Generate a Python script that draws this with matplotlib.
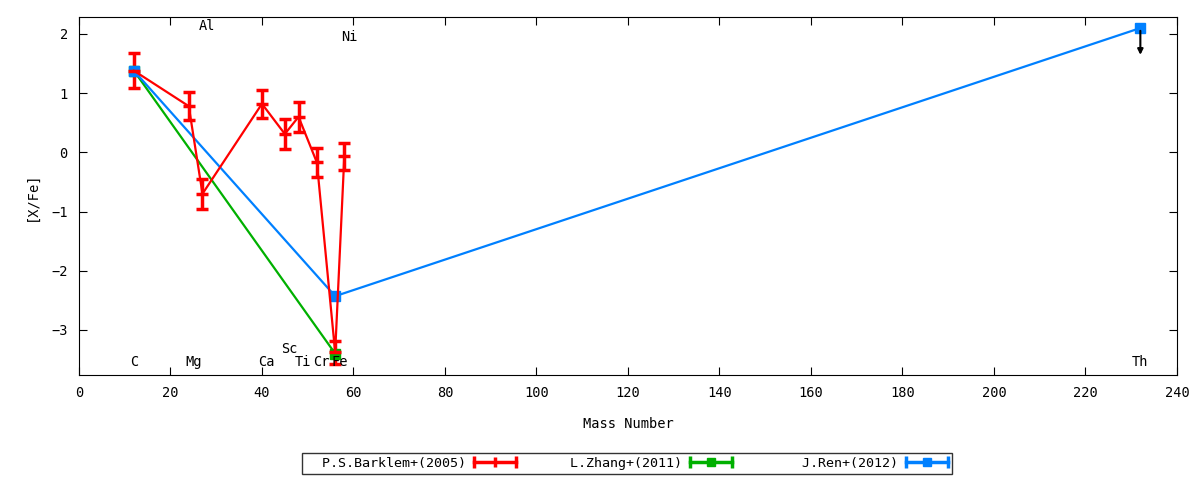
import matplotlib.pyplot as plt
from matplotlib.legend_handler import HandlerBase
from matplotlib.lines import Line2D
import numpy as np

plt.rcParams['font.family'] = ['DejaVu Sans Mono']
plt.rcParams['font.size'] = 9.8

# Barklem+ (2005)
bark_mass = [12, 24, 27, 40, 45, 48, 52, 56, 58]
bark_val = [1.38, 0.78, -0.70, 0.82, 0.31, 0.60, -0.17, -3.38, -0.07]
bark_err = [0.30, 0.24, 0.25, 0.24, 0.26, 0.25, 0.24, 0.20, 0.23]

# Zhang+ (2011)
zhang_mass = [12, 56]
zhang_val = [1.38, -3.40]

# Ren+ (2012)
ren_mass = [12, 56, 232]
ren_val = [1.38, -2.43, 2.10]

# element labels
elem_names = ['C', 'Mg', 'Al', 'Ca', 'Sc', 'Ti', 'Cr', 'Fe', 'Ni', 'Th']
elem_x = [12, 25, 28, 41, 46, 49, 53, 57, 59, 232]
elem_y = [-3.55, -3.55, 2.13, -3.55, -3.33, -3.55, -3.55, -3.55, 1.95, -3.55]


class ErrKeyHandler(HandlerBase):
    # gnuplot style key: horizontal bar with end caps and point in the middle
    def create_artists(self, legend, orig, xd, yd, width, height, fontsize, trans):
        c = orig.get_color()
        y = height / 2 - yd
        x0, x1 = -xd, -xd + width
        line = Line2D([x0, x1], [y, y], color=c, lw=2.5, transform=trans)
        caps = Line2D([x0, x1], [y, y], color=c, ls='none', marker='|', ms=8,
                      mew=2.5, transform=trans)
        mid = Line2D([(x0 + x1) / 2], [y], color=c, ls='none',
                     marker=orig.get_marker(), ms=orig.get_markersize(),
                     mew=orig.get_markeredgewidth(), transform=trans)
        return [line, caps, mid]


fig = plt.figure(figsize=(12, 4.8), dpi=100)
ax = fig.add_axes([0.0658, 0.219, 0.915, 0.746])

red, green, blue = '#ff0000', '#00b000', '#0080ff'

ax.errorbar(bark_mass, bark_val, yerr=bark_err, color=red, lw=1.6,
            elinewidth=2.5, capsize=4, capthick=2.5, marker='_', ms=8, mew=2.5)
ax.plot(zhang_mass, zhang_val, color=green, lw=1.6, marker='s', ms=7)
ax.plot(ren_mass, ren_val, color=blue, lw=1.6, marker='s', ms=7)

# upper limit for Th
ax.annotate('', xy=(ren_mass[2], ren_val[2] - 0.5), xytext=(ren_mass[2], ren_val[2]),
            arrowprops=dict(arrowstyle='-|>', color='black', lw=1.5, mutation_scale=8))

for n, x, y in zip(elem_names, elem_x, elem_y):
    ax.text(x, y, n, ha='center', va='center')

ax.set_xlim(0, 240)
ax.set_ylim(-3.76, 2.29)
ax.set_xticks(np.arange(0, 241, 20))
ax.set_yticks([-3, -2, -1, 0, 1, 2])
ax.tick_params(direction='in', top=True, right=True, length=6, pad=8)
ax.set_xlabel('Mass Number', labelpad=12)
ax.set_ylabel('[X/Fe]', labelpad=9)

h_bark = Line2D([], [], color=red, marker='|', ms=7, mew=2.5)
h_zhang = Line2D([], [], color=green, marker='s', ms=6, mew=1)
h_ren = Line2D([], [], color=blue, marker='s', ms=6, mew=1)
labels = ['P.S.Barklem+(2005)', 'L.Zhang+(2011)', 'J.Ren+(2012)']
labels = [s.rjust(20) for s in labels]

leg = fig.legend([h_bark, h_zhang, h_ren], labels, loc='center',
                 bbox_to_anchor=(0.5225, 0.0345), ncol=3, fontsize=9.6,
                 handler_map={Line2D: ErrKeyHandler()},
                 markerfirst=False, frameon=True, fancybox=False, edgecolor='black',
                 handlelength=3.2, columnspacing=0.4, borderpad=0.3,
                 handletextpad=0.6, borderaxespad=0)
leg.get_frame().set_linewidth(1.0)

fig.savefig('out.png')
